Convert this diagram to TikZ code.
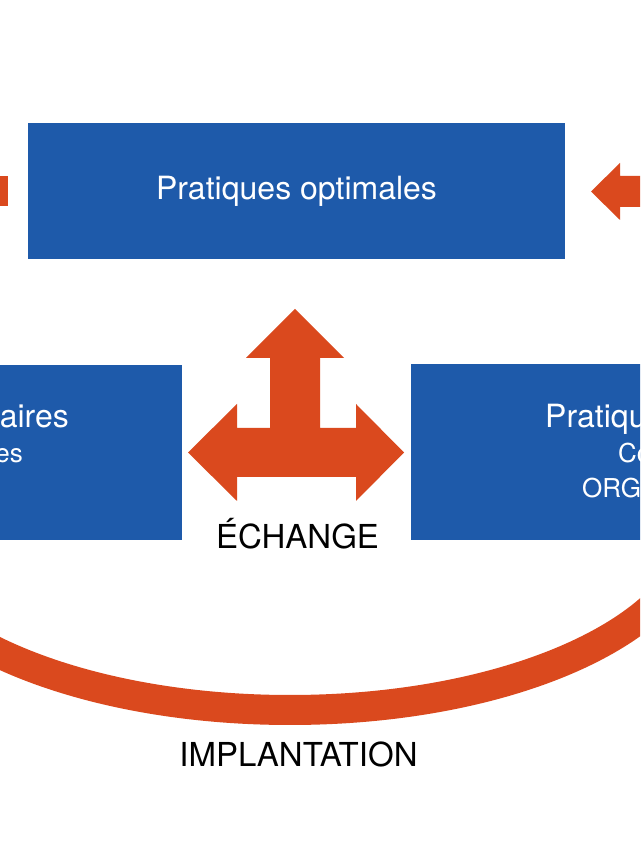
\documentclass[tikz,border=0pt]{standalone}
\usepackage{fontspec}
\setmainfont{TeX Gyre Heros}
\definecolor{boxblue}{RGB}{30,90,170}
\definecolor{arrorange}{RGB}{218,73,30}
\tikzset{
  bluebox/.style={fill=boxblue, draw=none, inner sep=0pt, outer sep=0pt},
  big/.style={font=\fontsize{32}{38}\selectfont, inner sep=0pt},
  label/.style={font=\fontsize{33}{39}\selectfont, inner sep=0pt},
  small/.style={font=\fontsize{26}{31}\selectfont, inner sep=0pt},
  wtext/.style={text=white},
  btext/.style={text=black},
  orangeshape/.style={fill=arrorange, draw=none},
  orangeband/.style={draw=arrorange, line width=30pt}
}
\begin{document}
\begin{tikzpicture}[x=1pt,y=1pt]
\path[use as bounding box] (0,0) rectangle (640,843);
\clip (0,0) rectangle (640,843);
\fill[white] (0,0) rectangle (640,843);

% boxes
\node[bluebox, minimum width=537pt, minimum height=136pt] (top) at (296.5,652) {};
\node[bluebox, minimum width=202pt, minimum height=175pt] (left) at (81,390.5) {};
\node[bluebox, minimum width=239pt, minimum height=176pt] (right) at (530.5,391) {};

% box texts
\node[big, wtext, anchor=base] (toptxt) at (296.5,643) {Pratiques optimales};
\node[big, wtext, anchor=base east] (lefttxt1) at (69,415) {aires};
\node[small, wtext, anchor=base east] (lefttxt2) at (23,380) {es};
\node[big, wtext, anchor=base west] (righttxt1) at (545,415) {Pratiques};
\node[small, wtext, anchor=base west] (righttxt2) at (618,380) {Co};
\node[small, wtext, anchor=base west] (righttxt3) at (582,345) {ORG};

% side arrows of top box
\fill[orangeshape] (-5,667) rectangle (8,637);
\fill[orangeshape] (591,651.5) -- (620,680) -- (620,667) -- (650,667) -- (650,636) -- (620,636) -- (620,623) -- cycle;

% T arrow (exchange)
\fill[orangeshape] (295,534) -- (344,485) -- (320,485) -- (320,415) -- (356,415) -- (356,439)
  -- (404,390.5) -- (356,342) -- (356,366) -- (237,366) -- (237,342) -- (188,390.5)
  -- (237,439) -- (237,415) -- (270,415) -- (270,485) -- (246,485) -- cycle;
\node[label, btext, anchor=base] (echange) at (297.5,294) {ÉCHANGE};

% implantation band
\coordinate (arcstart) at (-118,323);
\draw[orangeband] (arcstart) arc[start angle=180, end angle=360, x radius=408, y radius=190];
\node[label, btext, anchor=base] (impl) at (298.5,76) {IMPLANTATION};
\end{tikzpicture}
\end{document}
